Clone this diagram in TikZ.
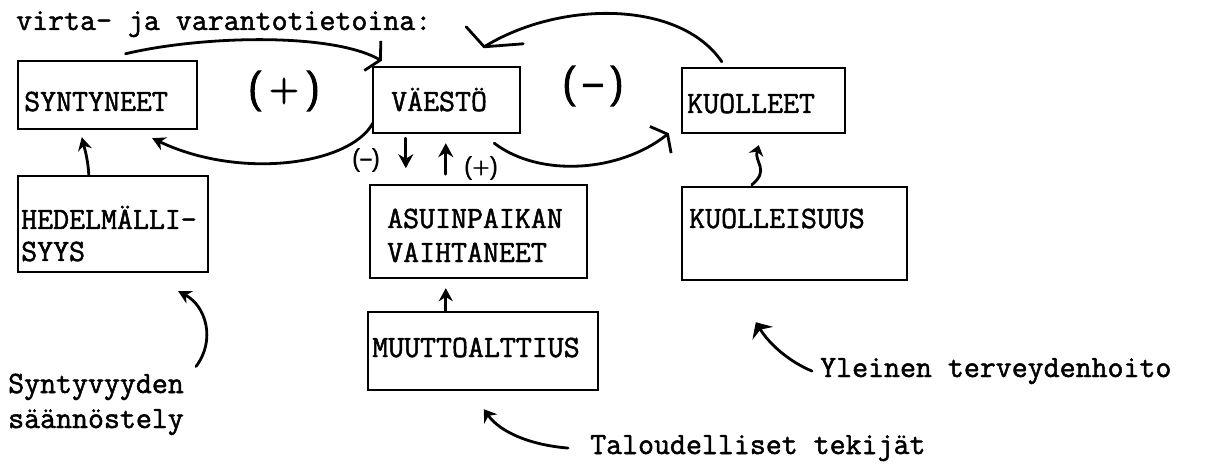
\documentclass[tikz,border=0pt]{standalone}
\usepackage{fontspec}
\newfontfamily\twfont{Latin Modern Mono}[FakeBold=1.6]
\newfontfamily\handfont{Latin Modern Sans}[FakeBold=3]
\usetikzlibrary{arrows.meta,calc}
\begin{document}
\begin{tikzpicture}[x=1pt,y=-1pt,
  box/.style={draw, line width=2.4pt, inner sep=0pt},
  tt/.style={font=\fontsize{31}{36}\selectfont\twfont, inner sep=0pt, anchor=base west},
  sign/.style={font=\fontsize{40}{42}\selectfont\handfont, inner sep=0pt},
  smallsign/.style={font=\fontsize{23}{26}\selectfont\handfont, inner sep=0pt},
  con/.style={line width=2.8pt, line cap=round, line join=round},
  head/.style={-{Stealth[length=13pt,width=14pt]}},
  barb/.style={-{Straight Barb[length=9pt,width=34pt]}},
]
\useasboundingbox (0,0) rectangle (1208,465);

% boxes
\node[box, minimum width=179pt, minimum height=68pt] (syn) at (107.5,95) {};
\node[box, minimum width=147pt, minimum height=66pt] (vae) at (446.5,100) {};
\node[box, minimum width=163pt, minimum height=65pt] (kuo) at (763.5,100.5) {};
\node[box, minimum width=190pt, minimum height=96pt] (hed) at (113,224) {};
\node[box, minimum width=217pt, minimum height=93pt] (asu) at (478.5,231.5) {};
\node[box, minimum width=230pt, minimum height=78pt] (muu) at (483,351) {};
\node[box, minimum width=225pt, minimum height=93pt] (kuoi) at (794.5,233.5) {};

% texts
\node[tt] (title) at (16,30) {virta- ja varantotietoina:};
\node[tt] (syntxt) at (24,111) {SYNTYNEET};
\node[tt] (vaetxt) at (391,111) {VÄESTÖ};
\node[tt] (kuotxt) at (687,113) {KUOLLEET};
\node[tt] (hedtxt1) at (21,229) {HEDELMÄLLI-};
\node[tt] (hedtxt2) at (21,261) {SYYS};
\node[tt] (asutxt1) at (387,228) {ASUINPAIKAN};
\node[tt] (asutxt2) at (387,262) {VAIHTANEET};
\node[tt] (muutxt) at (372,357) {MUUTTOALTTIUS};
\node[tt] (kuoitxt) at (689,228) {KUOLLEISUUS};
\node[tt] (synt1) at (8,393) {Syntyvyyden};
\node[tt] (synt2) at (8,428) {säännöstely};
\node[tt] (yl) at (820,377) {Yleinen terveydenhoito};
\node[tt] (tal) at (590,454) {Taloudelliset tekijät};

\node[sign] (plus) at (284,91) {(\,+\,)};
\node[sign] (minus) at (593,86) {(\,–\,)};
\node[smallsign] (mneg) at (366,160) {(–)};
\node[smallsign] (mpos) at (481,168) {(+)};

% connectors
\draw[con,barb] ($(syn.north)+(18,-6)$) .. controls (200,36) and (330,32) .. ($(vae.north west)+(10,-5)$);
\coordinate (vtip) at ($(vae.north east)+(-37,-19)$);
\draw[con] ($(kuo.north west)+(41,-5)$) .. controls (680,0) and (560,0) .. (vtip);
\draw[con] ($(vtip)+(-18,-20)$) -- (vtip) -- ($(vtip)+(39,-3)$);
\draw[con,head] ($(vae.south west)+(1,-11)$) .. controls (350,165) and (240,180) .. ($(syn.south east)+(-46,8)$);
\draw[con,barb] ($(vae.south east)+(-27,9)$) .. controls (540,178) and (620,172) .. ($(kuo.south west)+(-12,-1)$);
\draw[con,head] ($(hed.north west)+(72,0)$) .. controls (88,160) and (85,150) .. ($(syn.south west)+(65,7)$);
\draw[con,-{Stealth[length=10pt,width=15pt]}] ($(kuoi.north west)+(71,-1)$) .. controls (770,170) and (754,162) .. ($(kuo.south west)+(78,11)$);
\draw[con,head] ($(muu.north west)+(79,0)$) -- ($(asu.south west)+(77,9)$);
\draw[con,-{Stealth[length=14pt,width=15pt]}] ($(vae.south west)+(34,4)$) -- ++(0,30);
\draw[con,{Stealth[length=14pt,width=15pt]}-] ($(vae.south west)+(74,9)$) -- ++(0,31);
\draw[con,head] ($(synt1.north east)+(12,-7)$) .. controls (216,340) and (206,306) .. ($(hed.south east)+(-31,18)$);
\draw[con,-{Stealth[length=13pt,width=24pt]}] ($(yl.west)+(-8,0)$) .. controls (790,362) and (770,345) .. ($(kuoi.south west)+(75,41)$);
\draw[con,-{Stealth[length=12pt,width=16pt]}] ($(tal.west)+(-22,0)$) .. controls (530,445) and (500,432) .. ($(muu.south west)+(117,18)$);
\end{tikzpicture}
\end{document}
